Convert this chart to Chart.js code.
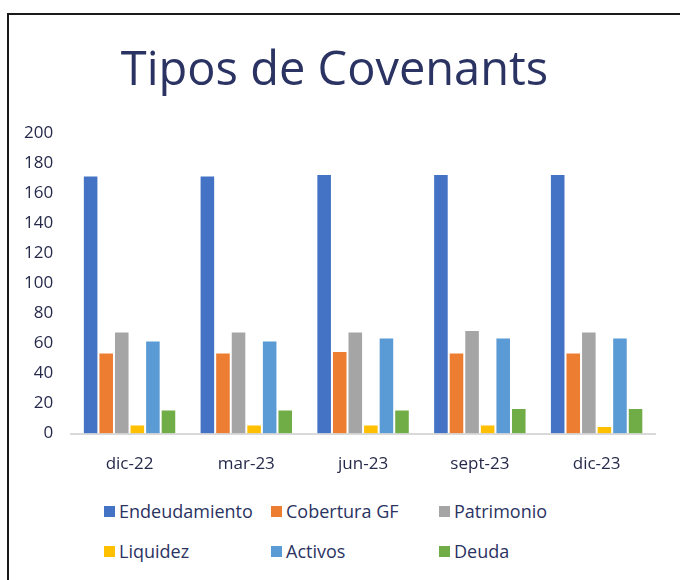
<!DOCTYPE html>
<html>
<head>
<meta charset="utf-8">
<script src="https://cdn.jsdelivr.net/npm/chart.js@4/dist/chart.umd.min.js"></script>
<style>
  body { margin: 0; background: #fff; font-family: "Open Sans", sans-serif; }
  #frame { position: absolute; left: 7px; top: 13px; width: 690px; height: 600px; border: 2px solid #1a1a1a; box-sizing: border-box; }
  #wrap { position: absolute; left: 0; top: 0; width: 680px; height: 490px; }
  #legend { position: absolute; left: 104px; top: 498px; width: 520px; display: grid; grid-template-columns: 167px 168px 170px; row-gap: 14px; }
  .item { display: flex; align-items: center; font-size: 18px; color: #2b3362; height: 26px; }
  .box { width: 11px; height: 11px; margin-right: 4px; }
</style>
</head>
<body>
<div id="frame"></div>
<div id="wrap"><canvas id="chart" width="680" height="490"></canvas></div>
<div id="legend"></div>
<script>
'use strict'

var periodos = ["dic-22", "mar-23", "jun-23", "sept-23", "dic-23"];
var endeudamiento = [172, 172, 173, 173, 173];
var coberturaGF = [54, 54, 55, 54, 54];
var patrimonio = [68, 68, 68, 69, 68];
var liquidez = [6, 6, 6, 6, 5];
var activos = [62, 62, 64, 64, 64];
var deuda = [16, 16, 16, 17, 17];

var colores = ["#4472c4", "#ed7d31", "#a5a5a5", "#ffc000", "#5b9bd5", "#70ad47"];
var nombres = ["Endeudamiento", "Cobertura GF", "Patrimonio", "Liquidez", "Activos", "Deuda"];
var series = [endeudamiento, coberturaGF, patrimonio, liquidez, activos, deuda];

(function () {
    var datasets = series.map(function (valores, i) {
        return {
            label: nombres[i],
            data: valores,
            backgroundColor: colores[i],
            borderColor: "#ffffff",
            borderWidth: 1,
            categoryPercentage: 0.8,
            barPercentage: 1.0
        };
    });

    var ctx = document.getElementById("chart").getContext("2d");
    var chart = new Chart(ctx, {
        type: "bar",
        data: { labels: periodos, datasets: datasets },
        options: {
            responsive: false,
            animation: false,
            layout: { padding: { left: 14, right: 25, top: 43, bottom: 4 } },
            plugins: {
                legend: { display: false },
                tooltip: { enabled: false },
                title: {
                    display: true,
                    text: "Tipos de Covenants",
                    color: "#2b3362",
                    font: { family: "Open Sans", size: 47, weight: "normal" },
                    padding: { top: 0, bottom: 34 }
                }
            },
            scales: {
                x: {
                    grid: { display: false },
                    border: { color: "#d9d9d9", width: 2 },
                    ticks: { color: "#262a4a", font: { family: "Open Sans", size: 17 }, padding: 12 }
                },
                y: {
                    min: 0,
                    max: 200,
                    ticks: { stepSize: 20, color: "#262a4a", font: { family: "Open Sans", size: 17 }, padding: 10 },
                    grid: { display: false },
                    border: { display: false }
                }
            }
        }
    });

    var legend = document.getElementById("legend");
    chart.data.datasets.forEach(function (ds) {
        var item = document.createElement("div");
        item.className = "item";
        var box = document.createElement("span");
        box.className = "box";
        box.style.background = ds.backgroundColor;
        item.appendChild(box);
        item.appendChild(document.createTextNode(ds.label));
        legend.appendChild(item);
    });
})();
</script>
</body>
</html>
